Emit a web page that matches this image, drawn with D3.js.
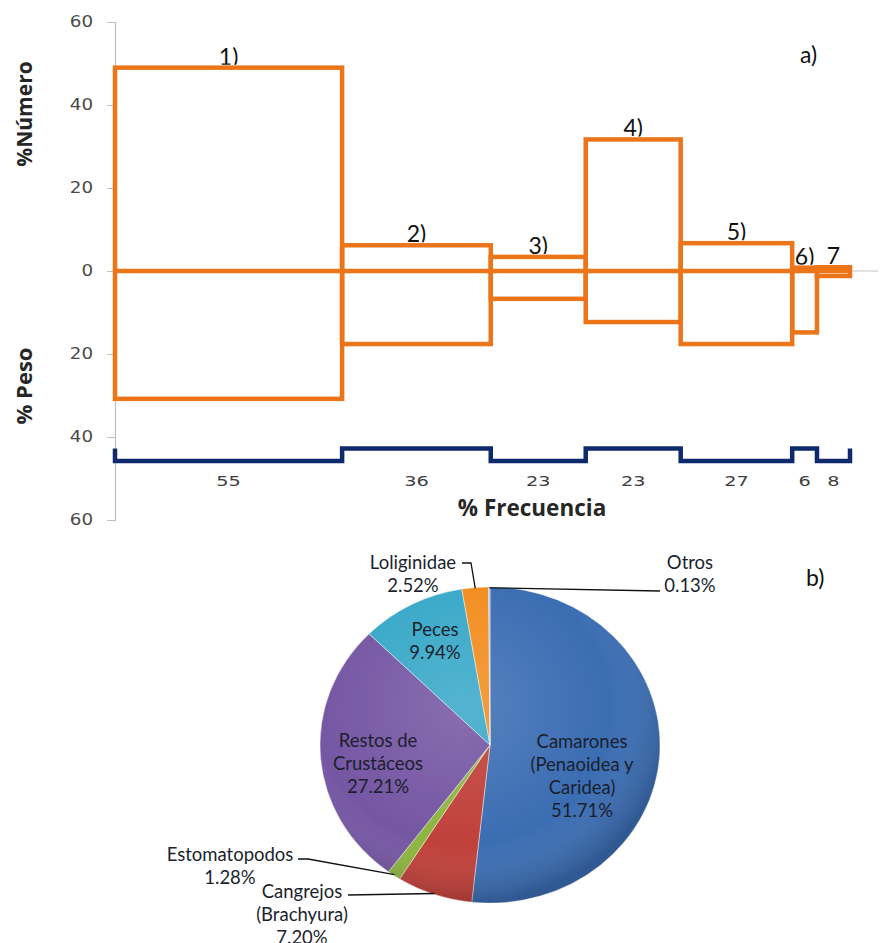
<!DOCTYPE html>
<html>
<head>
<meta charset="utf-8">
<script src="https://cdn.jsdelivr.net/npm/d3@7/dist/d3.min.js"></script>
<style>
  html, body { margin: 0; padding: 0; background: #fff; }
  svg { display: block; }
</style>
</head>
<body>
<div id="chart"></div>
<script>
// ---------------- DATA ----------------
const categories = ["1)", "2)", "3)", "4)", "5)", "6)", "7"];
const pctNumero = [49, 6.2, 3.4, 31.7, 6.7, 0.8, 0.9];
const pctPeso = [30.8, 17.6, 6.7, 12.3, 17.6, 14.8, 1.2];
const pctFrecuencia = [55, 36, 23, 23, 27, 6, 8];
const yTicks = [60, 40, 20, 0, -20, -40, -60];
const freqLevels = [-45.8, -42.8];   // low / high level of the frequency step line

const dietNames = [
  ["Camarones", "(Penaoidea y", "Caridea)"],
  ["Cangrejos", "(Brachyura)"],
  ["Estomatopodos"],
  ["Restos de", "Crustáceos"],
  ["Peces"],
  ["Loliginidae"],
  ["Otros"]
];
const dietValues = [51.71, 7.20, 1.28, 27.21, 9.94, 2.52, 0.13];
const dietPctText = ["51.71%", "7.20%", "1.28%", "27.21%", "9.94%", "2.52%", "0.13%"];

// ---------------- STYLE / LAYOUT ----------------
const W = 880, H = 943;
const orange = "#EC7519", navy = "#0E2A6C";
const dietColors = ["#3B6DB3", "#C0403A", "#8DB53F", "#7556A3", "#38A8C8", "#F28D1F", "#9FB6D8"];

const svg = d3.select("#chart").append("svg").attr("width", W).attr("height", H);
const defs = svg.append("defs");

// ---------------- CHART a) ----------------
const total = d3.sum(pctFrecuencia);
const x = d3.scaleLinear().domain([0, total]).range([115, 850]);
const y = d3.scaleLinear().domain([-60, 60]).range([520, 22]);
const starts = pctFrecuencia.map((d, i) => d3.sum(pctFrecuencia.slice(0, i)));

// axis at zero (gray)
svg.append("line").attr("x1", x(0)).attr("x2", 878).attr("y1", y(0)).attr("y2", y(0))
  .attr("stroke", "#c8c8c8").attr("stroke-width", 1.2);

// y axis
const yAxis = d3.axisLeft(y).tickValues(yTicks).tickSize(8).tickPadding(10)
  .tickFormat(d => Math.abs(d));
const gy = svg.append("g").attr("transform", `translate(${x(0)},0)`).call(yAxis);
gy.select(".domain").attr("stroke", "#bfbfbf").attr("stroke-width", 1.2);
gy.selectAll(".tick line").attr("stroke", "#bfbfbf");
gy.selectAll(".tick text").attr("fill", "#4a4a4a")
  .attr("transform", "scale(1.22,1)")
  .style("font-family", "'DejaVu Sans', sans-serif").style("font-size", "15px");

// bars (numero above, peso below)
svg.append("g").selectAll("rect").data(categories).join("rect")
  .attr("x", (d, i) => x(starts[i]))
  .attr("y", (d, i) => y(pctNumero[i]))
  .attr("width", (d, i) => x(starts[i] + pctFrecuencia[i]) - x(starts[i]))
  .attr("height", (d, i) => y(-pctPeso[i]) - y(pctNumero[i]))
  .attr("fill", "none").attr("stroke", orange).attr("stroke-width", 4.5);

// zero line in orange
svg.append("line").attr("x1", x(0)).attr("x2", x(total)).attr("y1", y(0)).attr("y2", y(0))
  .attr("stroke", orange).attr("stroke-width", 4.5);

// frequency step line
let p = d3.path();
p.moveTo(x(0), y(freqLevels[1]));
pctFrecuencia.forEach((f, i) => {
  const lvl = y(freqLevels[i % 2]);
  p.lineTo(x(starts[i]), lvl);
  p.lineTo(x(starts[i] + f), lvl);
});
p.lineTo(x(total), y(freqLevels[1]));
svg.append("path").attr("d", p.toString()).attr("fill", "none")
  .attr("stroke", navy).attr("stroke-width", 4.5).attr("stroke-linejoin", "miter");

// frequency labels
svg.append("g").selectAll("text").data(pctFrecuencia).join("text")
  .attr("transform", (d, i) => `translate(${x(starts[i] + d / 2)},486) scale(1.38,1)`)
  .attr("text-anchor", "middle")
  .attr("fill", "#404040")
  .style("font-family", "'DejaVu Sans', sans-serif").style("font-size", "14px")
  .text(d => d);

// category labels (clipped at bar top)
categories.forEach((c, i) => {
  const top = y(pctNumero[i]);
  const id = "clipLab" + i;
  defs.append("clipPath").attr("id", id).append("rect")
    .attr("x", 0).attr("y", 0).attr("width", W).attr("height", top - 3);
  svg.append("text")
    .attr("clip-path", `url(#${id})`)
    .attr("x", x(starts[i] + pctFrecuencia[i] / 2))
    .attr("y", top - 3)
    .attr("text-anchor", "middle")
    .attr("fill", "#111")
    .style("font-family", "Lato, 'Open Sans', sans-serif").style("font-size", "23px")
    .text(c);
});

// panel letter a)
svg.append("text").attr("x", 800).attr("y", 63).attr("fill", "#111")
  .style("font-family", "Lato, 'Open Sans', sans-serif").style("font-size", "23px").text("a)");

// axis titles
svg.append("text").attr("transform", "translate(32,114) rotate(-90)")
  .attr("text-anchor", "middle").attr("fill", "#262626")
  .style("font-family", "'Open Sans', sans-serif").style("font-weight", "bold").style("font-size", "21px")
  .text("%Número");
svg.append("text").attr("transform", "translate(32,386) rotate(-90)")
  .attr("text-anchor", "middle").attr("fill", "#262626")
  .style("font-family", "'Open Sans', sans-serif").style("font-weight", "bold").style("font-size", "22px")
  .text("% Peso");
svg.append("text").attr("x", 532).attr("y", 516)
  .attr("text-anchor", "middle").attr("fill", "#262626")
  .style("font-family", "'Open Sans', sans-serif").style("font-weight", "bold").style("font-size", "22.5px")
  .text("% Frecuencia");

// ---------------- CHART b) ----------------
const cx = 490, cy = 745, R = 170, sy = 0.93;
const pie = d3.pie().sort(null).value(d => d)(dietValues);
const arc = d3.arc().innerRadius(0).outerRadius(R);

const grad = defs.append("radialGradient").attr("id", "shade")
  .attr("cx", "42%").attr("cy", "38%").attr("r", "62%");
grad.append("stop").attr("offset", "0%").attr("stop-color", "#fff").attr("stop-opacity", 0.14);
grad.append("stop").attr("offset", "70%").attr("stop-color", "#fff").attr("stop-opacity", 0);
grad.append("stop").attr("offset", "100%").attr("stop-color", "#000").attr("stop-opacity", 0.18);

const gp = svg.append("g").attr("transform", `translate(${cx},${cy}) scale(1,${sy})`);
gp.selectAll("path.slice").data(pie).join("path").attr("class", "slice")
  .attr("d", arc).attr("fill", (d, i) => dietColors[i])
  .attr("stroke", "rgba(255,255,255,0.45)").attr("stroke-width", 1);
gp.append("circle").attr("r", R).attr("fill", "url(#shade)");

const pieFont = "Lato, 'Open Sans', sans-serif";
const pieSize = "18.5px";
// inside labels: [slice index, x, y of first line]
const insideLab = [[0, 582, 742], [3, 378, 741], [4, 435, 630]];
insideLab.forEach(([i, lx, ly]) => {
  const lines = dietNames[i].concat([dietPctText[i]]);
  svg.append("text").attr("text-anchor", "middle").attr("fill", "#1b1f2e")
    .style("font-family", pieFont).style("font-size", pieSize)
    .selectAll("tspan").data(lines).join("tspan")
    .attr("x", lx).attr("y", (d, k) => ly + 6 + k * 23).text(d => d);
});

// outside labels with leader lines: [slice index, text x, text y, elbow points]
const outsideLab = [
  [5, 413, 563, [[462, 563], [471, 563]]],
  [6, 690, 563, [[660, 591]]],
  [2, 230, 855, [[298, 859], [308, 859]]],
  [1, 302, 892, [[348, 895]]]
];
outsideLab.forEach(([i, lx, ly, elbow]) => {
  const a = (pie[i].startAngle + pie[i].endAngle) / 2;
  const ax = cx + (R - 1) * Math.sin(a), ay = cy - (R - 1) * Math.cos(a) * sy;
  const pts = elbow.concat([[ax, ay]]);
  svg.append("path").attr("d", d3.line()(pts)).attr("fill", "none")
    .attr("stroke", "#111").attr("stroke-width", 1.3);
  const lines = dietNames[i].concat([dietPctText[i]]);
  svg.append("text").attr("text-anchor", "middle").attr("fill", "#1b1f2e")
    .style("font-family", pieFont).style("font-size", pieSize)
    .selectAll("tspan").data(lines).join("tspan")
    .attr("x", lx).attr("y", (d, k) => ly + 6 + k * 23).text(d => d);
});

svg.append("text").attr("x", 806).attr("y", 586).attr("fill", "#111")
  .style("font-family", "Lato, 'Open Sans', sans-serif").style("font-size", "23px").text("b)");
</script>
</body>
</html>
